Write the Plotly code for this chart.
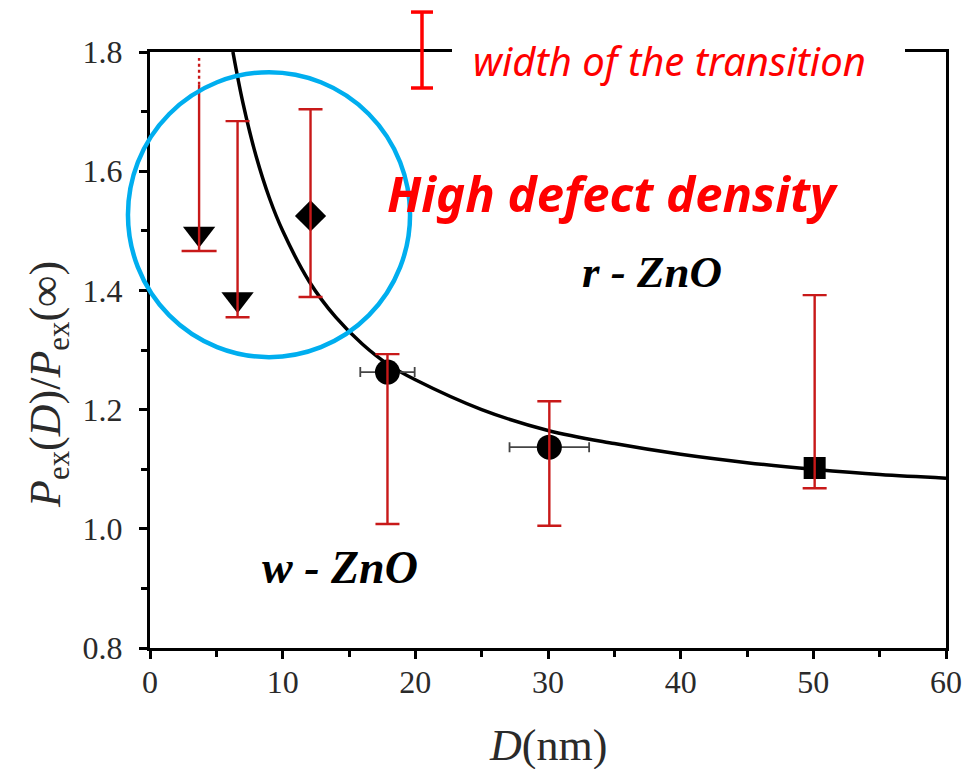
import plotly.graph_objects as go

# ---- data ----
# fitted size-dependence curve (read points)
curve_d = [6.25, 7, 8, 9, 10, 12, 14, 16, 18, 20, 25, 30, 35, 40, 45, 50, 55, 60]
curve_p = [1.80, 1.715, 1.625, 1.555, 1.50, 1.415, 1.355, 1.31, 1.275, 1.25,
           1.20, 1.165, 1.143, 1.125, 1.111, 1.10, 1.091, 1.085]

# downward arrows (upper-bound points)
tri_d = [3.7, 6.6]
tri_p = [1.495, 1.385]
tri_lo = [1.466, 1.355]
tri_hi = [1.745, 1.684]
tri_dotted_hi = 1.79

# diamond point
dia_d = [12.1]
dia_p = [1.525]
dia_lo = [1.389]
dia_hi = [1.704]

# circle points (with size uncertainty)
cir_d = [17.9, 30.1]
cir_p = [1.263, 1.137]
cir_lo = [1.008, 1.005]
cir_hi = [1.293, 1.214]
cir_derr = [2.05, 3.0]

# square point
sq_d = [50.1]
sq_p = [1.102]
sq_lo = [1.068]
sq_hi = [1.392]

RED_BAR = "rgb(200,25,25)"
RED = "#FF0000"
CYAN = "#00AEEF"
SERIF = "Liberation Serif"
AXIS_TXT = "#2a2a2a"

fig = go.Figure()

# fitted curve
fig.add_trace(go.Scatter(x=curve_d, y=curve_p, mode="lines",
                         line=dict(color="black", width=3.5, shape="spline"), hoverinfo="skip"))

# black markers
fig.add_trace(go.Scatter(x=tri_d, y=tri_p, mode="markers",
                         marker=dict(symbol="triangle-down", size=28, color="black")))
fig.add_trace(go.Scatter(x=dia_d, y=dia_p, mode="markers",
                         marker=dict(symbol="diamond", size=24, color="black")))
fig.add_trace(go.Scatter(x=cir_d, y=cir_p, mode="markers",
                         marker=dict(symbol="circle", size=25, color="black"),
                         error_x=dict(type="data", array=cir_derr, color="#444", thickness=1.8, width=5)))
fig.add_trace(go.Scatter(x=sq_d, y=sq_p, mode="markers",
                         marker=dict(symbol="square", size=22, color="black")))


def red_bars(xs, ys, lo, hi):
    fig.add_trace(go.Scatter(
        x=xs, y=ys, mode="markers", marker=dict(size=1, opacity=0),
        error_y=dict(type="data", symmetric=False,
                     array=[h - y for h, y in zip(hi, ys)],
                     arrayminus=[y - l for l, y in zip(lo, ys)],
                     color=RED_BAR, thickness=2.4, width=12)))


# red ranges drawn over the markers
red_bars(tri_d[1:], tri_p[1:], tri_lo[1:], tri_hi[1:])
red_bars(dia_d, dia_p, dia_lo, dia_hi)
red_bars(cir_d, cir_p, cir_lo, cir_hi)
red_bars(sq_d, sq_p, sq_lo, sq_hi)

# first arrow: open-ended range with a dotted continuation
fig.add_trace(go.Scatter(x=[tri_d[0], tri_d[0]], y=[tri_lo[0], tri_hi[0]], mode="lines",
                         line=dict(color=RED_BAR, width=2.4)))
fig.add_trace(go.Scatter(x=[tri_d[0], tri_d[0]], y=[tri_hi[0], tri_dotted_hi], mode="lines",
                         line=dict(color=RED_BAR, width=2.4, dash="dot")))
fig.add_trace(go.Scatter(x=[tri_d[0]], y=[tri_lo[0]], mode="markers",
                         marker=dict(symbol="line-ew", size=25, line=dict(color=RED_BAR, width=2.4))))

shapes = [
    # highlight circle
    dict(type="circle", xref="paper", yref="paper", x0=-0.0277, x1=0.3267, y0=0.488, y1=0.966,
         line=dict(color=CYAN, width=4.5), layer="above"),
    # white gap in the top frame line behind the legend text
    dict(type="rect", xref="paper", yref="paper", x0=0.3794, x1=0.9485, y0=0.982, y1=1.018,
         fillcolor="white", line=dict(width=0), layer="above"),
    # legend bar glyph
    dict(type="line", xref="paper", yref="paper", x0=0.3417, x1=0.3417, y0=0.9396, y1=1.067,
         line=dict(color=RED, width=3.5), layer="above"),
    dict(type="line", xref="paper", yref="paper", x0=0.3279, x1=0.3555, y0=0.9396, y1=0.9396,
         line=dict(color=RED, width=3.5), layer="above"),
    dict(type="line", xref="paper", yref="paper", x0=0.3279, x1=0.3555, y0=1.067, y1=1.067,
         line=dict(color=RED, width=3.5), layer="above"),
]

annotations = [
    dict(text="<i>width of the transition</i>", x=0.653, y=0.985, xref="paper", yref="paper",
         showarrow=False, font=dict(family="Noto Sans", size=40, color=RED),
         xanchor="center", yanchor="middle"),
    dict(text="<b><i>High defect density</i></b>", x=0.581, y=0.763, xref="paper", yref="paper",
         showarrow=False, font=dict(family="Noto Sans", size=49, color=RED), xanchor="center", yanchor="middle"),
    dict(text="<b><i>r - ZnO</i></b>", x=0.631, y=0.631, xref="paper", yref="paper",
         showarrow=False, font=dict(family=SERIF, size=45, color="black"), xanchor="center", yanchor="middle"),
    dict(text="<b><i>w - ZnO</i></b>", x=0.239, y=0.135, xref="paper", yref="paper",
         showarrow=False, font=dict(family=SERIF, size=46, color="black"), xanchor="center", yanchor="middle"),
    # axis titles
    dict(text="<i>D</i>(nm)", x=0.5, y=-0.163, xref="paper", yref="paper", showarrow=False,
         font=dict(family=SERIF, size=44, color=AXIS_TXT), xanchor="center", yanchor="middle"),
    dict(text="<i>P</i><sub>ex</sub>(<i>D</i>)/<i>P</i><sub>ex</sub>(∞)", x=-0.127, y=0.443,
         xref="paper", yref="paper", showarrow=False, textangle=-90,
         font=dict(family=SERIF, size=44, color=AXIS_TXT), xanchor="center", yanchor="middle"),
]

axis_common = dict(showline=True, linecolor="black", linewidth=3, mirror=True, showgrid=False, zeroline=False,
                   ticks="outside", tickcolor="black", tickwidth=2.5, ticklen=8,
                   tickfont=dict(family=SERIF, size=32, color=AXIS_TXT))

fig.update_layout(
    width=975, height=769,
    margin=dict(l=150, r=29, t=52, b=121),
    paper_bgcolor="white", plot_bgcolor="white",
    showlegend=False,
    shapes=shapes, annotations=annotations,
    xaxis=dict(range=[0, 60], dtick=10, tick0=0, ticklabelstandoff=-4,
               minor=dict(dtick=5, ticks="outside", ticklen=6, tickwidth=2.5, tickcolor="black"),
               **axis_common),
    yaxis=dict(range=[0.8, 1.8], dtick=0.2, tick0=0.8, tickformat=".1f", ticklabelstandoff=10,
               minor=dict(dtick=0.1, ticks="outside", ticklen=6, tickwidth=2.5, tickcolor="black"),
               **axis_common),
)

fig.write_html("out.html")
